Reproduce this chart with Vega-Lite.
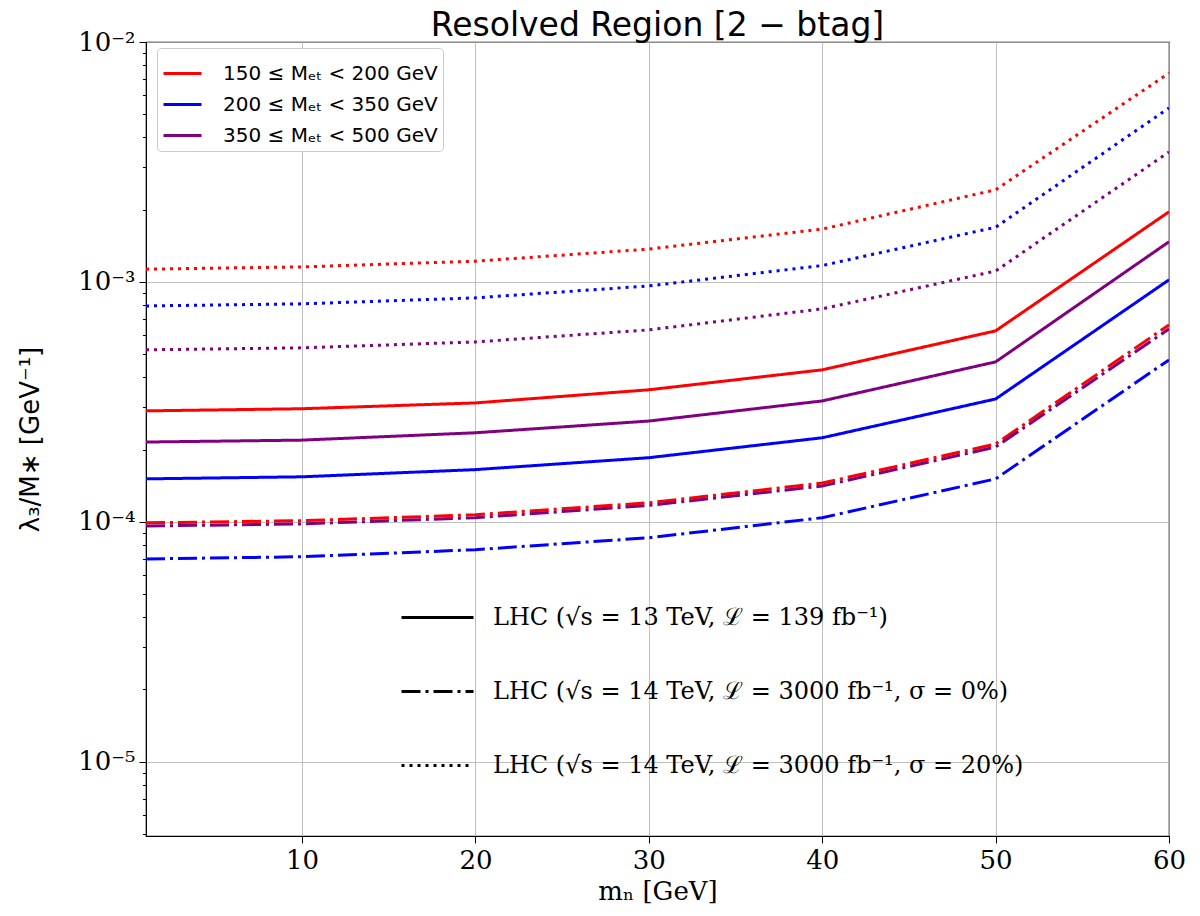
{
  "$schema": "https://vega.github.io/schema/vega-lite/v6.json",
  "width": 1023,
  "height": 794,
  "autosize": {"type": "none"},
  "padding": {"left": 146, "top": 42, "right": 31, "bottom": 80},
  "background": "white",
  "config": {
    "view": {"stroke": "black", "strokeWidth": 1.2}
  },
  "title": {"text": "Resolved Region [2 − btag]", "font": "DejaVu Sans", "fontSize": 33, "fontWeight": "normal", "color": "black", "offset": -14, "anchor": "middle"},
  "data": {"values": [
    {"m": 1, "v": 2.90e-4, "b": "150 ≤ Mₑₜ < 200 GeV", "L": "LHC (√s = 13 TeV, ℒ = 139 fb⁻¹)"},
    {"m": 10, "v": 2.96e-4, "b": "150 ≤ Mₑₜ < 200 GeV", "L": "LHC (√s = 13 TeV, ℒ = 139 fb⁻¹)"},
    {"m": 20, "v": 3.13e-4, "b": "150 ≤ Mₑₜ < 200 GeV", "L": "LHC (√s = 13 TeV, ℒ = 139 fb⁻¹)"},
    {"m": 30, "v": 3.55e-4, "b": "150 ≤ Mₑₜ < 200 GeV", "L": "LHC (√s = 13 TeV, ℒ = 139 fb⁻¹)"},
    {"m": 40, "v": 4.30e-4, "b": "150 ≤ Mₑₜ < 200 GeV", "L": "LHC (√s = 13 TeV, ℒ = 139 fb⁻¹)"},
    {"m": 50, "v": 6.25e-4, "b": "150 ≤ Mₑₜ < 200 GeV", "L": "LHC (√s = 13 TeV, ℒ = 139 fb⁻¹)"},
    {"m": 60, "v": 1.96e-3, "b": "150 ≤ Mₑₜ < 200 GeV", "L": "LHC (√s = 13 TeV, ℒ = 139 fb⁻¹)"},
    {"m": 1, "v": 1.51e-4, "b": "200 ≤ Mₑₜ < 350 GeV", "L": "LHC (√s = 13 TeV, ℒ = 139 fb⁻¹)"},
    {"m": 10, "v": 1.54e-4, "b": "200 ≤ Mₑₜ < 350 GeV", "L": "LHC (√s = 13 TeV, ℒ = 139 fb⁻¹)"},
    {"m": 20, "v": 1.65e-4, "b": "200 ≤ Mₑₜ < 350 GeV", "L": "LHC (√s = 13 TeV, ℒ = 139 fb⁻¹)"},
    {"m": 30, "v": 1.85e-4, "b": "200 ≤ Mₑₜ < 350 GeV", "L": "LHC (√s = 13 TeV, ℒ = 139 fb⁻¹)"},
    {"m": 40, "v": 2.24e-4, "b": "200 ≤ Mₑₜ < 350 GeV", "L": "LHC (√s = 13 TeV, ℒ = 139 fb⁻¹)"},
    {"m": 50, "v": 3.25e-4, "b": "200 ≤ Mₑₜ < 350 GeV", "L": "LHC (√s = 13 TeV, ℒ = 139 fb⁻¹)"},
    {"m": 60, "v": 1.02e-3, "b": "200 ≤ Mₑₜ < 350 GeV", "L": "LHC (√s = 13 TeV, ℒ = 139 fb⁻¹)"},
    {"m": 1, "v": 2.15e-4, "b": "350 ≤ Mₑₜ < 500 GeV", "L": "LHC (√s = 13 TeV, ℒ = 139 fb⁻¹)"},
    {"m": 10, "v": 2.19e-4, "b": "350 ≤ Mₑₜ < 500 GeV", "L": "LHC (√s = 13 TeV, ℒ = 139 fb⁻¹)"},
    {"m": 20, "v": 2.35e-4, "b": "350 ≤ Mₑₜ < 500 GeV", "L": "LHC (√s = 13 TeV, ℒ = 139 fb⁻¹)"},
    {"m": 30, "v": 2.63e-4, "b": "350 ≤ Mₑₜ < 500 GeV", "L": "LHC (√s = 13 TeV, ℒ = 139 fb⁻¹)"},
    {"m": 40, "v": 3.19e-4, "b": "350 ≤ Mₑₜ < 500 GeV", "L": "LHC (√s = 13 TeV, ℒ = 139 fb⁻¹)"},
    {"m": 50, "v": 4.64e-4, "b": "350 ≤ Mₑₜ < 500 GeV", "L": "LHC (√s = 13 TeV, ℒ = 139 fb⁻¹)"},
    {"m": 60, "v": 1.47e-3, "b": "350 ≤ Mₑₜ < 500 GeV", "L": "LHC (√s = 13 TeV, ℒ = 139 fb⁻¹)"},
    {"m": 1, "v": 9.9e-5, "b": "150 ≤ Mₑₜ < 200 GeV", "L": "LHC (√s = 14 TeV, ℒ = 3000 fb⁻¹, σ = 0%)"},
    {"m": 10, "v": 1.01e-4, "b": "150 ≤ Mₑₜ < 200 GeV", "L": "LHC (√s = 14 TeV, ℒ = 3000 fb⁻¹, σ = 0%)"},
    {"m": 20, "v": 1.07e-4, "b": "150 ≤ Mₑₜ < 200 GeV", "L": "LHC (√s = 14 TeV, ℒ = 3000 fb⁻¹, σ = 0%)"},
    {"m": 30, "v": 1.20e-4, "b": "150 ≤ Mₑₜ < 200 GeV", "L": "LHC (√s = 14 TeV, ℒ = 3000 fb⁻¹, σ = 0%)"},
    {"m": 40, "v": 1.45e-4, "b": "150 ≤ Mₑₜ < 200 GeV", "L": "LHC (√s = 14 TeV, ℒ = 3000 fb⁻¹, σ = 0%)"},
    {"m": 50, "v": 2.11e-4, "b": "150 ≤ Mₑₜ < 200 GeV", "L": "LHC (√s = 14 TeV, ℒ = 3000 fb⁻¹, σ = 0%)"},
    {"m": 60, "v": 6.62e-4, "b": "150 ≤ Mₑₜ < 200 GeV", "L": "LHC (√s = 14 TeV, ℒ = 3000 fb⁻¹, σ = 0%)"},
    {"m": 1, "v": 7.0e-5, "b": "200 ≤ Mₑₜ < 350 GeV", "L": "LHC (√s = 14 TeV, ℒ = 3000 fb⁻¹, σ = 0%)"},
    {"m": 10, "v": 7.15e-5, "b": "200 ≤ Mₑₜ < 350 GeV", "L": "LHC (√s = 14 TeV, ℒ = 3000 fb⁻¹, σ = 0%)"},
    {"m": 20, "v": 7.65e-5, "b": "200 ≤ Mₑₜ < 350 GeV", "L": "LHC (√s = 14 TeV, ℒ = 3000 fb⁻¹, σ = 0%)"},
    {"m": 30, "v": 8.58e-5, "b": "200 ≤ Mₑₜ < 350 GeV", "L": "LHC (√s = 14 TeV, ℒ = 3000 fb⁻¹, σ = 0%)"},
    {"m": 40, "v": 1.04e-4, "b": "200 ≤ Mₑₜ < 350 GeV", "L": "LHC (√s = 14 TeV, ℒ = 3000 fb⁻¹, σ = 0%)"},
    {"m": 50, "v": 1.51e-4, "b": "200 ≤ Mₑₜ < 350 GeV", "L": "LHC (√s = 14 TeV, ℒ = 3000 fb⁻¹, σ = 0%)"},
    {"m": 60, "v": 4.73e-4, "b": "200 ≤ Mₑₜ < 350 GeV", "L": "LHC (√s = 14 TeV, ℒ = 3000 fb⁻¹, σ = 0%)"},
    {"m": 1, "v": 9.6e-5, "b": "350 ≤ Mₑₜ < 500 GeV", "L": "LHC (√s = 14 TeV, ℒ = 3000 fb⁻¹, σ = 0%)"},
    {"m": 10, "v": 9.8e-5, "b": "350 ≤ Mₑₜ < 500 GeV", "L": "LHC (√s = 14 TeV, ℒ = 3000 fb⁻¹, σ = 0%)"},
    {"m": 20, "v": 1.04e-4, "b": "350 ≤ Mₑₜ < 500 GeV", "L": "LHC (√s = 14 TeV, ℒ = 3000 fb⁻¹, σ = 0%)"},
    {"m": 30, "v": 1.17e-4, "b": "350 ≤ Mₑₜ < 500 GeV", "L": "LHC (√s = 14 TeV, ℒ = 3000 fb⁻¹, σ = 0%)"},
    {"m": 40, "v": 1.41e-4, "b": "350 ≤ Mₑₜ < 500 GeV", "L": "LHC (√s = 14 TeV, ℒ = 3000 fb⁻¹, σ = 0%)"},
    {"m": 50, "v": 2.05e-4, "b": "350 ≤ Mₑₜ < 500 GeV", "L": "LHC (√s = 14 TeV, ℒ = 3000 fb⁻¹, σ = 0%)"},
    {"m": 60, "v": 6.37e-4, "b": "350 ≤ Mₑₜ < 500 GeV", "L": "LHC (√s = 14 TeV, ℒ = 3000 fb⁻¹, σ = 0%)"},
    {"m": 1, "v": 1.13e-3, "b": "150 ≤ Mₑₜ < 200 GeV", "L": "LHC (√s = 14 TeV, ℒ = 3000 fb⁻¹, σ = 20%)"},
    {"m": 10, "v": 1.155e-3, "b": "150 ≤ Mₑₜ < 200 GeV", "L": "LHC (√s = 14 TeV, ℒ = 3000 fb⁻¹, σ = 20%)"},
    {"m": 20, "v": 1.22e-3, "b": "150 ≤ Mₑₜ < 200 GeV", "L": "LHC (√s = 14 TeV, ℒ = 3000 fb⁻¹, σ = 20%)"},
    {"m": 30, "v": 1.37e-3, "b": "150 ≤ Mₑₜ < 200 GeV", "L": "LHC (√s = 14 TeV, ℒ = 3000 fb⁻¹, σ = 20%)"},
    {"m": 40, "v": 1.66e-3, "b": "150 ≤ Mₑₜ < 200 GeV", "L": "LHC (√s = 14 TeV, ℒ = 3000 fb⁻¹, σ = 20%)"},
    {"m": 50, "v": 2.42e-3, "b": "150 ≤ Mₑₜ < 200 GeV", "L": "LHC (√s = 14 TeV, ℒ = 3000 fb⁻¹, σ = 20%)"},
    {"m": 60, "v": 7.42e-3, "b": "150 ≤ Mₑₜ < 200 GeV", "L": "LHC (√s = 14 TeV, ℒ = 3000 fb⁻¹, σ = 20%)"},
    {"m": 1, "v": 7.94e-4, "b": "200 ≤ Mₑₜ < 350 GeV", "L": "LHC (√s = 14 TeV, ℒ = 3000 fb⁻¹, σ = 20%)"},
    {"m": 10, "v": 8.1e-4, "b": "200 ≤ Mₑₜ < 350 GeV", "L": "LHC (√s = 14 TeV, ℒ = 3000 fb⁻¹, σ = 20%)"},
    {"m": 20, "v": 8.58e-4, "b": "200 ≤ Mₑₜ < 350 GeV", "L": "LHC (√s = 14 TeV, ℒ = 3000 fb⁻¹, σ = 20%)"},
    {"m": 30, "v": 9.62e-4, "b": "200 ≤ Mₑₜ < 350 GeV", "L": "LHC (√s = 14 TeV, ℒ = 3000 fb⁻¹, σ = 20%)"},
    {"m": 40, "v": 1.17e-3, "b": "200 ≤ Mₑₜ < 350 GeV", "L": "LHC (√s = 14 TeV, ℒ = 3000 fb⁻¹, σ = 20%)"},
    {"m": 50, "v": 1.69e-3, "b": "200 ≤ Mₑₜ < 350 GeV", "L": "LHC (√s = 14 TeV, ℒ = 3000 fb⁻¹, σ = 20%)"},
    {"m": 60, "v": 5.31e-3, "b": "200 ≤ Mₑₜ < 350 GeV", "L": "LHC (√s = 14 TeV, ℒ = 3000 fb⁻¹, σ = 20%)"},
    {"m": 1, "v": 5.21e-4, "b": "350 ≤ Mₑₜ < 500 GeV", "L": "LHC (√s = 14 TeV, ℒ = 3000 fb⁻¹, σ = 20%)"},
    {"m": 10, "v": 5.31e-4, "b": "350 ≤ Mₑₜ < 500 GeV", "L": "LHC (√s = 14 TeV, ℒ = 3000 fb⁻¹, σ = 20%)"},
    {"m": 20, "v": 5.62e-4, "b": "350 ≤ Mₑₜ < 500 GeV", "L": "LHC (√s = 14 TeV, ℒ = 3000 fb⁻¹, σ = 20%)"},
    {"m": 30, "v": 6.31e-4, "b": "350 ≤ Mₑₜ < 500 GeV", "L": "LHC (√s = 14 TeV, ℒ = 3000 fb⁻¹, σ = 20%)"},
    {"m": 40, "v": 7.72e-4, "b": "350 ≤ Mₑₜ < 500 GeV", "L": "LHC (√s = 14 TeV, ℒ = 3000 fb⁻¹, σ = 20%)"},
    {"m": 50, "v": 1.11e-3, "b": "350 ≤ Mₑₜ < 500 GeV", "L": "LHC (√s = 14 TeV, ℒ = 3000 fb⁻¹, σ = 20%)"},
    {"m": 60, "v": 3.48e-3, "b": "350 ≤ Mₑₜ < 500 GeV", "L": "LHC (√s = 14 TeV, ℒ = 3000 fb⁻¹, σ = 20%)"}
  ]},
  "mark": {"type": "line", "strokeWidth": 3, "clip": true},
  "encoding": {
    "x": {
      "field": "m", "type": "quantitative",
      "scale": {"domain": [1, 60], "nice": false, "zero": false},
      "axis": {
        "title": "mₙ [GeV]", "titleFont": "DejaVu Serif", "titleFontSize": 26, "titleFontWeight": "normal", "titleColor": "black", "titlePadding": 5,
        "values": [10, 20, 30, 40, 50, 60],
        "labelFont": "DejaVu Serif", "labelFontSize": 26, "labelColor": "black", "labelPadding": 4, "labelFlush": false, "labelOverlap": false,
        "tickSize": 7, "tickColor": "black", "tickWidth": 1,
        "domainColor": "black",
        "grid": true, "gridColor": "#b0b0b0", "gridOpacity": 0.8
      }
    },
    "y": {
      "field": "v", "type": "quantitative",
      "scale": {"type": "log", "domain": [4.9e-6, 0.01], "nice": false},
      "axis": {
        "title": "λ₃/M∗ [GeV⁻¹]", "titleFont": "DejaVu Sans", "titleFontSize": 26, "titleFontWeight": "normal", "titleColor": "black", "titlePadding": 34,
        "values": [5e-6, 6e-6, 7e-6, 8e-6, 9e-6, 1e-5, 2e-5, 3e-5, 4e-5, 5e-5, 6e-5, 7e-5, 8e-5, 9e-5, 1e-4, 2e-4, 3e-4, 4e-4, 5e-4, 6e-4, 7e-4, 8e-4, 9e-4, 1e-3, 2e-3, 3e-3, 4e-3, 5e-3, 6e-3, 7e-3, 8e-3, 9e-3, 1e-2],
        "labelExpr": "abs(log(datum.value)/LN10 - round(log(datum.value)/LN10)) < 1e-6 ? '10⁻' + ['⁰','¹','²','³','⁴','⁵','⁶'][-round(log(datum.value)/LN10)] : ''",
        "labelFont": "DejaVu Serif", "labelFontSize": 26, "labelColor": "black", "labelPadding": 4, "labelOverlap": false, "labelBound": false,
        "tickSize": {"condition": {"test": "abs(log(datum.value)/LN10 - round(log(datum.value)/LN10)) < 1e-6", "value": 7}, "value": 3.5},
        "tickColor": "black", "tickWidth": 1,
        "domainColor": "black",
        "grid": true, "gridColor": "#b0b0b0",
        "gridOpacity": {"condition": {"test": "abs(log(datum.value)/LN10 - round(log(datum.value)/LN10)) < 1e-6", "value": 0.8}, "value": 0}
      }
    },
    "color": {
      "field": "b", "type": "nominal",
      "scale": {"domain": ["150 ≤ Mₑₜ < 200 GeV", "200 ≤ Mₑₜ < 350 GeV", "350 ≤ Mₑₜ < 500 GeV"], "range": ["#ff0000", "#0000ff", "#800080"]},
      "legend": {
        "title": null, "orient": "none", "legendX": 11, "legendY": 6,
        "fillColor": "white", "strokeColor": "#cccccc", "cornerRadius": 4, "padding": 5,
        "symbolType": "stroke", "symbolStrokeWidth": 3, "symbolSize": 1444,
        "labelFont": "DejaVu Sans", "labelFontSize": 20, "labelColor": "black", "labelLimit": 400, "labelOffset": 20, "rowPadding": 0
      }
    },
    "strokeDash": {
      "field": "L", "type": "nominal",
      "scale": {"domain": ["LHC (√s = 13 TeV, ℒ = 139 fb⁻¹)", "LHC (√s = 14 TeV, ℒ = 3000 fb⁻¹, σ = 0%)", "LHC (√s = 14 TeV, ℒ = 3000 fb⁻¹, σ = 20%)"], "range": [[1, 0], [19, 5, 3, 5], [3, 5]]},
      "legend": {
        "title": null, "orient": "none", "legendX": 254, "legendY": 538,
        "symbolType": "stroke", "symbolStrokeColor": "black", "symbolStrokeWidth": 3, "symbolSize": 5184,
        "labelFont": "DejaVu Serif", "labelFontSize": 24, "labelColor": "black", "labelLimit": 800, "labelOffset": 18, "rowPadding": 24
      }
    }
  }
}
